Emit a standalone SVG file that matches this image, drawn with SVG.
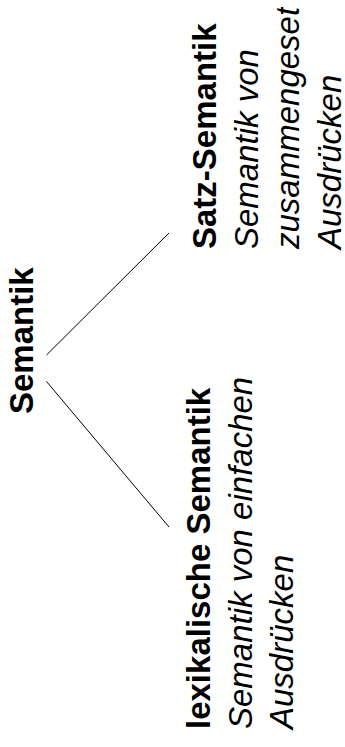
<svg xmlns="http://www.w3.org/2000/svg" width="345" height="747" viewBox="0 0 345 747">
<style>
text{font-family:"Liberation Sans",Arial,sans-serif;font-size:33px;fill:#000}
.b{font-weight:bold}
.i{font-style:italic}
.c{stroke:#000;stroke-width:1;fill:none}
</style>
<defs>
<clipPath id="clipTop"><rect x="0" y="7" width="345" height="740"/></clipPath>
</defs>
<rect width="345" height="747" fill="#fff"/>
<g id="connectors">
<line class="c" x1="46.5" y1="355" x2="169" y2="233"/>
<line class="c" x1="46.5" y1="381.5" x2="169" y2="527"/>
</g>
<g id="node-semantik" transform="rotate(-90)">
<text class="b" x="-414" y="33">Semantik</text>
</g>
<g id="node-satz" clip-path="url(#clipTop)">
<g transform="rotate(-90)">
<text class="b" x="-249" y="216">Satz-Semantik</text>
<text class="i" x="-249" y="257.5">Semantik von</text>
<text class="i" x="-249" y="299">zusammengesetzten</text>
<text class="i" x="-249" y="340.5">Ausdrücken</text>
</g>
</g>
<g id="node-lexikalisch" transform="rotate(-90)">
<text class="b" x="-729" y="210">lexikalische Semantik</text>
<text class="i" x="-729" y="251.5">Semantik von einfachen</text>
<text class="i" x="-729" y="293">Ausdrücken</text>
</g>
</svg>
